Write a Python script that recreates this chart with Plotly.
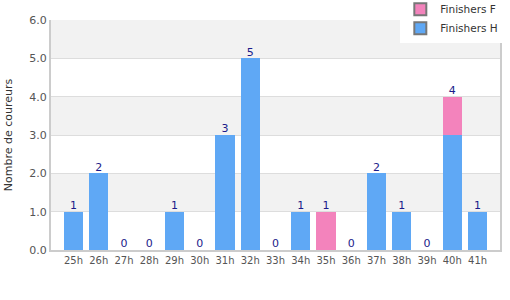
import plotly.graph_objects as go

categories = ["25h","26h","27h","28h","29h","30h","31h","32h","33h","34h","35h","36h","37h","38h","39h","40h","41h"]
finishers_h = [1,2,0,0,1,0,3,5,0,1,0,0,2,1,0,3,1]
finishers_f = [0,0,0,0,0,0,0,0,0,0,1,0,0,0,0,1,0]
y_ticks = [0,1,2,3,4,5,6]

BLUE = "#5fa8f5"
PINK = "#f383bc"
totals = [h + f for h, f in zip(finishers_h, finishers_f)]

fig = go.Figure()
fig.add_trace(go.Bar(x=categories, y=finishers_h, marker=dict(color=BLUE, line=dict(width=0)),
                     showlegend=False, hoverinfo="skip"))
fig.add_trace(go.Bar(x=categories, y=finishers_f, marker=dict(color=PINK, line=dict(width=0)),
                     showlegend=False, hoverinfo="skip"))
fig.add_trace(go.Scatter(x=categories, y=totals, mode="text", text=[str(t) for t in totals],
                         textposition="top center", textfont=dict(color="#1b1b8a", size=11,
                         family="DejaVu Sans"), showlegend=False, hoverinfo="skip"))
# legend entries
fig.add_trace(go.Scatter(x=[None], y=[None], mode="markers", name="Finishers H",
                         marker=dict(symbol="square", size=9, color=BLUE, line=dict(color="#777", width=1))))
fig.add_trace(go.Scatter(x=[None], y=[None], mode="markers", name="Finishers F",
                         marker=dict(symbol="square", size=9, color=PINK, line=dict(color="#777", width=1))))

# alternating background bands
for i in range(len(y_ticks) - 1):
    if (len(y_ticks) - 2 - i) % 2 == 0:
        fig.add_shape(type="rect", xref="paper", yref="y", x0=0, x1=1,
                      y0=y_ticks[i], y1=y_ticks[i + 1], fillcolor="#f2f2f2",
                      line=dict(width=0), layer="below")

fig.update_layout(
    barmode="stack",
    bargap=0.24,
    width=510, height=300,
    margin=dict(l=51, r=10, t=20, b=50, autoexpand=False),
    plot_bgcolor="white", paper_bgcolor="white",
    font=dict(family="DejaVu Sans", size=11, color="#555"),
    legend=dict(x=0.778, y=1.11, xanchor="left", yanchor="top",
                bgcolor="white", traceorder="reversed", font=dict(size=10.5, color="#333"),
                itemsizing="constant", tracegroupgap=0, borderwidth=0),
    xaxis=dict(showgrid=False, showline=True, linecolor="#ccc", linewidth=2, tickangle=0,
               tickfont=dict(size=10, color="#555"), ticks="", fixedrange=True),
    yaxis=dict(range=[0, 6], tickvals=y_ticks, tickformat=".1f", showgrid=True,
               gridcolor="#dddddd", showline=True, linecolor="#ccc", linewidth=2, mirror=True,
               zeroline=False, ticks="", tickfont=dict(size=11, color="#555"),
               title=dict(text="Nombre de coureurs", font=dict(size=11, color="#333"), standoff=14)),
)

fig.write_html("out.html")
